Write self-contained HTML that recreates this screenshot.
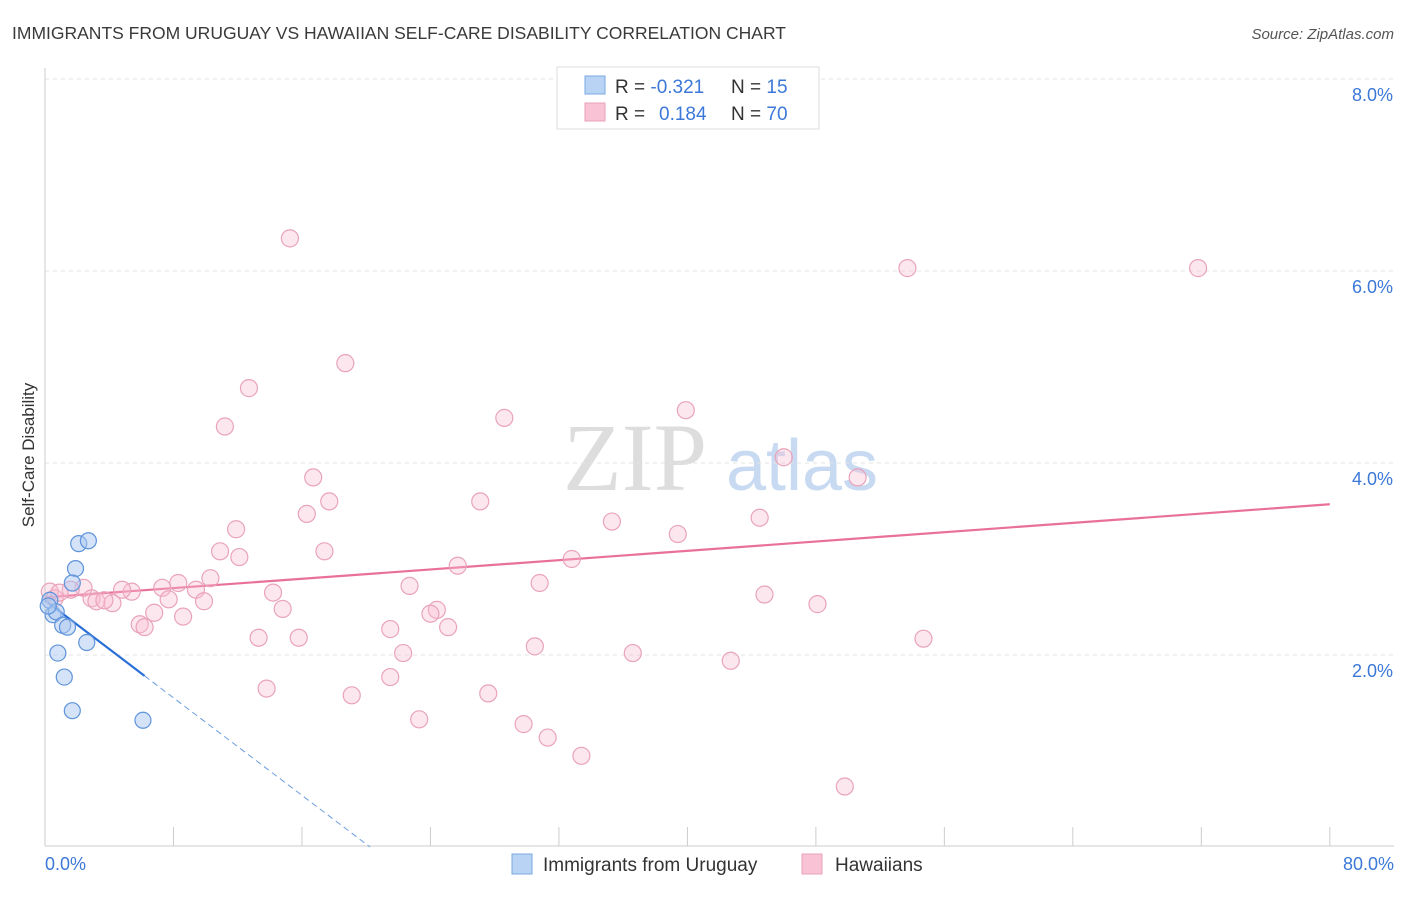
<!DOCTYPE html>
<html><head><meta charset="utf-8"><style>
body{margin:0;background:#fff;font-family:"Liberation Sans",sans-serif;}
</style></head><body>
<svg width="1406" height="892" viewBox="0 0 1406 892" xmlns="http://www.w3.org/2000/svg">
<text x="12" y="39" font-size="17.5" fill="#3a3a3a">IMMIGRANTS FROM URUGUAY VS HAWAIIAN SELF-CARE DISABILITY CORRELATION CHART</text>
<text x="1394" y="39" font-size="15" fill="#555" text-anchor="end" font-style="italic">Source: ZipAtlas.com</text>
<g>
<text x="635" y="490" font-size="96" font-family="Liberation Serif,serif" fill="#ddd" text-anchor="middle">ZIP</text>
<text x="802" y="490" font-size="72" fill="#c8daf2" text-anchor="middle">atlas</text>
</g>
<g id="grid"></g><g id="axes"></g><g id="lines"></g><g id="pts"></g>
<text transform="translate(34,455) rotate(-90)" font-size="17" fill="#333" text-anchor="middle">Self-Care Disability</text>
<text x="45" y="870" font-size="18" fill="#3b78d8">0.0%</text>
<text x="1394" y="870" font-size="18" fill="#3b78d8" text-anchor="end">80.0%</text>
<g>
<rect x="557" y="67" width="262" height="62" fill="#fff" stroke="#ddd"/>
<rect x="585" y="76" width="20" height="18" fill="#b9d3f5" stroke="#7aa8e0"/>
<rect x="585" y="103" width="20" height="18" fill="#f9c3d5" stroke="#e8a0b8"/>
<text x="615" y="93" font-size="19" fill="#333">R = <tspan fill="#3b78d8">-0.321</tspan><tspan x="731">N = </tspan><tspan fill="#3b78d8">15</tspan></text>
<text x="615" y="120" font-size="19" fill="#333">R = <tspan fill="#3b78d8" x="659">0.184</tspan><tspan x="731">N = </tspan><tspan fill="#3b78d8">70</tspan></text>
</g>
<g>
<rect x="512" y="854" width="20" height="20" fill="#b9d3f5" stroke="#7aa8e0"/>
<text x="543" y="871" font-size="19" fill="#333">Immigrants from Uruguay</text>
<rect x="802" y="854" width="20" height="20" fill="#f9c3d5" stroke="#e8a0b8"/>
<text x="835" y="871" font-size="19" fill="#333">Hawaiians</text>
</g>
</svg>
<script>
const yTicks=[2,4,6,8];
const yTickLabels=["2.0%","4.0%","6.0%","8.0%"];
const xTicks=[0,8,16,24,32,40,48,56,64,72,80];
const pinkX=[15.25,53.7,71.8,18.7,12.7,28.6,39.9,11.2,46.0,50.6,16.7,17.7,27.1,16.3,35.3,44.5,39.4,11.9,10.9,17.4,12.1,32.8,25.7,10.3,8.3,7.3,30.8,22.7,14.2,5.4,4.8,2.4,9.4,7.7,9.9,2.9,3.2,4.2,3.7,14.8,44.8,48.1,24.4,24.0,6.8,8.6,5.9,6.2,21.5,25.1,13.3,15.8,54.7,30.5,22.3,36.6,42.7,13.8,19.1,21.5,27.6,23.3,29.8,31.3,33.4,49.8,0.3,0.6,1.6,0.9];
const pinkY=[6.34,6.03,6.03,5.04,4.78,4.47,4.55,4.38,4.06,3.85,3.85,3.60,3.60,3.47,3.39,3.43,3.26,3.31,3.08,3.08,3.02,3.00,2.93,2.80,2.75,2.70,2.75,2.72,2.65,2.66,2.68,2.70,2.68,2.58,2.56,2.59,2.56,2.54,2.57,2.48,2.63,2.53,2.47,2.43,2.44,2.40,2.32,2.29,2.27,2.29,2.18,2.18,2.17,2.09,2.02,2.02,1.94,1.65,1.58,1.77,1.60,1.33,1.28,1.14,0.95,0.63,2.66,2.59,2.68,2.65];
const blueX=[0.3,0.5,0.7,1.1,1.4,0.8,1.2,1.7,2.6,6.1,2.1,2.7,1.9,1.7,0.2];
const blueY=[2.57,2.42,2.45,2.31,2.29,2.02,1.77,1.42,2.13,1.32,3.16,3.19,2.90,2.75,2.51];
const pinkTrend=[2.6,3.57];
const blueTrend=[2.57,-0.127];
const sx=v=>45+v*16.06, sy=v=>847-v*96;
const NS="http://www.w3.org/2000/svg";
function mk(tag,attrs,parent){const e=document.createElementNS(NS,tag);for(const k in attrs)e.setAttribute(k,attrs[k]);document.getElementById(parent).appendChild(e);return e;}
yTicks.forEach((t,i)=>{
 const g=mk('line',{x1:45,x2:1394,y1:sy(t),y2:sy(t),stroke:'#e3e3e3','stroke-dasharray':'4,4'},'grid');
 
 
 const l=mk('text',{x:1393,y:sy(t)+22,'font-size':18,fill:'#3b78d8','text-anchor':'end'},'grid');
 l.textContent=yTickLabels[i];
 
 
});
const ya=mk('line',{x1:45,x2:45,y1:68,y2:846,stroke:'#ccc'},'axes');


const xa=mk('line',{x1:45,x2:1394,y1:846,y2:846,stroke:'#ccc'},'axes');


xTicks.forEach(t=>{const e=mk('line',{x1:sx(t),x2:sx(t),y1:827,y2:846,stroke:'#ccc'},'axes');
 
 });
const pl=mk('line',{x1:sx(0),y1:sy(pinkTrend[0]),x2:sx(80),y2:sy(pinkTrend[0]+pinkTrend[1]-pinkTrend[0]),stroke:'#e8709a','stroke-width':2.2},'lines');


const bEnd=6.2, bZero=-blueTrend[0]/blueTrend[1];
const bl=mk('line',{x1:sx(0),y1:sy(blueTrend[0]),x2:sx(bEnd),y2:sy(blueTrend[0]+blueTrend[1]*bEnd),stroke:'#2a6fd6','stroke-width':2.2},'lines');


const bd=mk('line',{x1:sx(bEnd),y1:sy(blueTrend[0]+blueTrend[1]*bEnd),x2:sx(bZero),y2:sy(0),stroke:'#6a9de0','stroke-width':1,'stroke-dasharray':'6,4'},'lines');


pinkX.forEach((x,i)=>{const c=mk('circle',{cx:sx(x),cy:sy(pinkY[i]),r:8.5,fill:'rgba(248,187,208,0.35)',stroke:'#e9a3bb','stroke-width':1.2},'pts');
 
 });
blueX.forEach((x,i)=>{const c=mk('circle',{cx:sx(x),cy:sy(blueY[i]),r:8,fill:'rgba(170,200,240,0.5)',stroke:'#5f93db','stroke-width':1.2},'pts');
 
 });
</script>
</body></html>
